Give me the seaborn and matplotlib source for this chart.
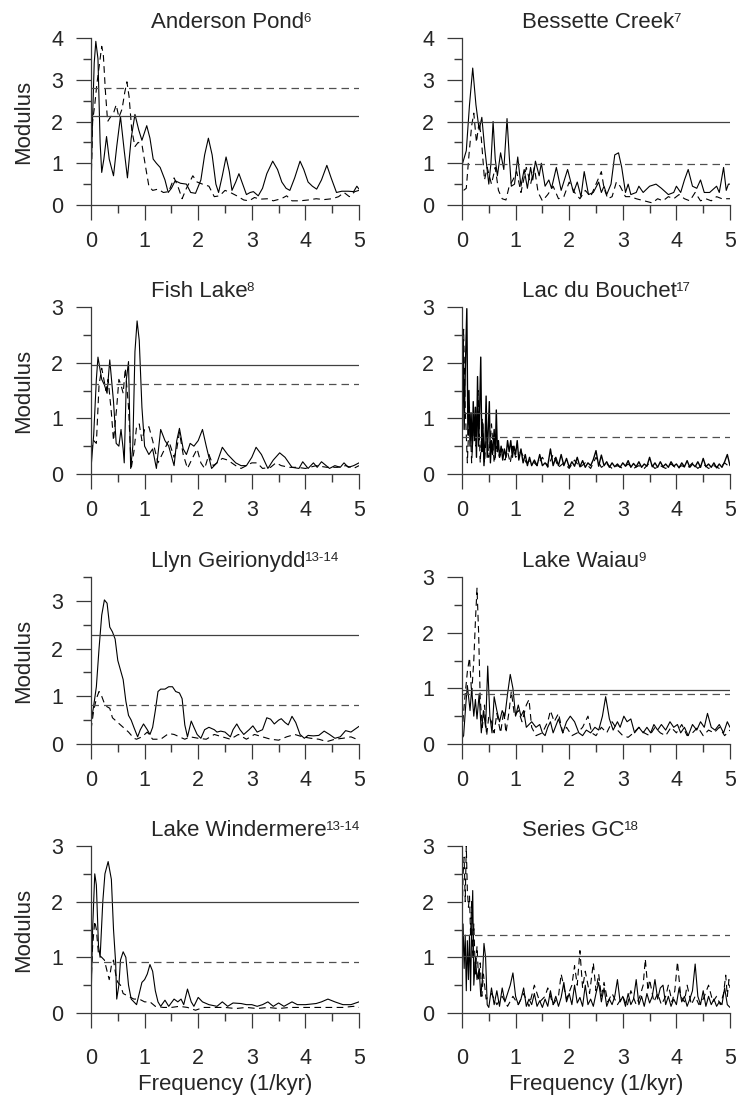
import matplotlib
matplotlib.use("Agg")
import matplotlib.pyplot as plt
from matplotlib.ticker import FixedLocator
import seaborn as sns
import pandas as pd

# Panel titles, reference superscripts and y-axis tops
titles = ["Anderson Pond", "Bessette Creek", "Fish Lake", "Lac du Bouchet",
          "Llyn Geirionydd", "Lake Waiau", "Lake Windermere", "Series GC"]
refs = ["6", "7", "8", "17", "13-14", "9", "13-14", "18"]
ymax = [4, 4, 3, 3, 3.5, 3, 3, 3]

# Significance levels (solid / dashed horizontal lines)
solid_thr = [2.12, 1.99, 1.95, 1.09, 2.28, 0.97, 2.00, 1.03]
dashed_thr = [2.81, 0.98, 1.61, 0.67, 0.82, 0.90, 0.92, 1.41]

# Spectra as (frequency 1/kyr, modulus) pairs
anderson_solid = [(0.00, 0.50), (0.03, 2.10), (0.06, 3.40), (0.09, 3.92), (0.13, 3.50), (0.17, 1.50),
                  (0.20, 0.78), (0.24, 1.10), (0.29, 1.64), (0.34, 1.10), (0.42, 0.70), (0.48, 1.40),
                  (0.55, 2.12), (0.62, 1.30), (0.68, 0.65), (0.75, 1.60), (0.82, 2.17), (0.89, 1.80),
                  (0.95, 1.55), (1.04, 1.90), (1.10, 1.60), (1.16, 1.10), (1.22, 1.00), (1.29, 0.90),
                  (1.38, 0.60), (1.44, 0.30), (1.50, 0.40), (1.57, 0.58), (1.67, 0.52), (1.78, 0.50),
                  (1.86, 0.30), (1.95, 0.28), (2.05, 0.60), (2.12, 1.20), (2.19, 1.60), (2.26, 1.20),
                  (2.33, 0.50), (2.38, 0.30), (2.45, 0.70), (2.52, 1.15), (2.58, 0.80), (2.63, 0.35),
                  (2.70, 0.55), (2.76, 0.75), (2.83, 0.50), (2.90, 0.25), (2.97, 0.30), (3.03, 0.32),
                  (3.12, 0.22), (3.20, 0.40), (3.28, 0.75), (3.39, 1.05), (3.48, 0.85), (3.56, 0.55),
                  (3.64, 0.40), (3.71, 0.35), (3.80, 0.65), (3.90, 1.05), (3.97, 0.85), (4.05, 0.55),
                  (4.13, 0.45), (4.21, 0.38), (4.30, 0.60), (4.40, 0.95), (4.48, 0.65), (4.58, 0.30),
                  (4.68, 0.33), (4.80, 0.33), (4.90, 0.32), (4.96, 0.45), (5.00, 0.38)]
anderson_dashed = [(0.00, 0.30), (0.03, 2.00), (0.07, 2.40), (0.11, 2.90), (0.15, 3.30), (0.20, 3.80),
                   (0.23, 3.60), (0.27, 2.70), (0.31, 2.00), (0.36, 2.10), (0.42, 2.20), (0.47, 2.40),
                   (0.52, 2.10), (0.58, 2.30), (0.63, 2.70), (0.67, 2.95), (0.71, 2.60), (0.76, 1.80),
                   (0.82, 1.40), (0.88, 1.50), (0.95, 1.45), (1.02, 0.90), (1.08, 0.45), (1.15, 0.35),
                   (1.25, 0.38), (1.35, 0.30), (1.45, 0.32), (1.55, 0.65), (1.62, 0.45), (1.70, 0.15),
                   (1.78, 0.40), (1.90, 0.70), (1.98, 0.55), (2.08, 0.50), (2.20, 0.45), (2.30, 0.20),
                   (2.40, 0.22), (2.50, 0.35), (2.60, 0.30), (2.72, 0.22), (2.85, 0.12), (2.95, 0.10),
                   (3.05, 0.18), (3.15, 0.14), (3.30, 0.15), (3.40, 0.10), (3.55, 0.15), (3.65, 0.22),
                   (3.75, 0.10), (3.90, 0.10), (4.05, 0.12), (4.20, 0.15), (4.35, 0.13), (4.50, 0.15),
                   (4.62, 0.20), (4.72, 0.30), (4.82, 0.20), (4.92, 0.32), (5.00, 0.35)]

bessette_solid = [(0.00, 0.95), (0.08, 1.30), (0.14, 2.40), (0.20, 3.28), (0.26, 2.40), (0.32, 1.80),
                  (0.37, 2.10), (0.42, 1.40), (0.46, 0.95), (0.50, 0.50), (0.54, 1.00), (0.58, 2.00),
                  (0.62, 1.10), (0.66, 0.70), (0.72, 1.25), (0.78, 0.85), (0.84, 2.07), (0.88, 1.20),
                  (0.92, 0.45), (0.98, 0.50), (1.04, 1.15), (1.10, 0.45), (1.16, 0.85), (1.22, 0.40),
                  (1.28, 0.90), (1.32, 0.60), (1.37, 1.05), (1.44, 0.70), (1.48, 1.00), (1.55, 0.45),
                  (1.62, 0.60), (1.67, 0.40), (1.76, 0.90), (1.85, 0.35), (1.97, 0.85), (2.08, 0.30),
                  (2.15, 0.55), (2.22, 0.20), (2.28, 0.80), (2.36, 0.25), (2.45, 0.30), (2.55, 0.55),
                  (2.60, 0.30), (2.65, 0.45), (2.70, 0.25), (2.78, 0.50), (2.85, 1.20), (2.92, 1.25),
                  (2.98, 0.90), (3.05, 0.30), (3.10, 0.50), (3.15, 0.25), (3.25, 0.30), (3.30, 0.45),
                  (3.38, 0.30), (3.50, 0.45), (3.62, 0.50), (3.72, 0.40), (3.85, 0.25), (3.95, 0.30),
                  (4.00, 0.45), (4.08, 0.30), (4.15, 0.60), (4.22, 0.85), (4.30, 0.45), (4.38, 0.40),
                  (4.45, 0.60), (4.52, 0.30), (4.62, 0.30), (4.75, 0.45), (4.80, 0.30), (4.88, 0.90),
                  (4.93, 0.35), (4.97, 0.50), (5.00, 0.50)]
bessette_dashed = [(0.03, 0.35), (0.08, 0.40), (0.13, 1.20), (0.18, 1.90), (0.22, 2.20), (0.27, 1.50),
                   (0.32, 2.00), (0.36, 1.60), (0.42, 0.60), (0.47, 0.90), (0.55, 0.50), (0.62, 0.90),
                   (0.68, 0.35), (0.75, 0.15), (0.82, 0.12), (0.88, 0.45), (0.95, 0.60), (1.02, 0.80),
                   (1.10, 0.30), (1.20, 0.90), (1.28, 0.50), (1.35, 0.90), (1.42, 0.30), (1.50, 0.10),
                   (1.60, 0.25), (1.70, 0.45), (1.80, 0.15), (1.90, 0.20), (2.00, 0.55), (2.10, 0.30),
                   (2.20, 0.15), (2.30, 0.35), (2.40, 0.20), (2.50, 0.50), (2.60, 0.80), (2.65, 0.40),
                   (2.72, 0.15), (2.80, 0.20), (2.88, 0.55), (2.95, 0.45), (3.05, 0.20), (3.15, 0.20),
                   (3.25, 0.15), (3.40, 0.10), (3.55, 0.05), (3.65, 0.15), (3.75, 0.10), (3.85, 0.20),
                   (3.95, 0.15), (4.05, 0.25), (4.15, 0.15), (4.25, 0.10), (4.35, 0.30), (4.45, 0.10),
                   (4.55, 0.15), (4.65, 0.10), (4.75, 0.20), (4.85, 0.15), (4.95, 0.15), (5.00, 0.15)]

fish_solid = [(0.00, 0.10), (0.05, 0.70), (0.10, 1.70), (0.13, 2.10), (0.20, 1.70), (0.25, 1.60),
              (0.30, 1.45), (0.35, 2.05), (0.42, 1.30), (0.47, 0.55), (0.52, 0.50), (0.56, 0.80),
              (0.60, 0.45), (0.62, 0.20), (0.66, 1.70), (0.70, 2.02), (0.74, 0.10), (0.78, 0.50),
              (0.82, 2.20), (0.86, 2.75), (0.90, 2.40), (0.95, 1.20), (1.00, 0.50), (1.08, 0.35),
              (1.15, 0.45), (1.22, 0.10), (1.30, 0.80), (1.38, 0.60), (1.45, 0.50), (1.55, 0.15),
              (1.60, 0.60), (1.65, 0.82), (1.72, 0.45), (1.78, 0.35), (1.85, 0.55), (1.92, 0.50),
              (2.00, 0.60), (2.08, 0.80), (2.15, 0.50), (2.25, 0.10), (2.35, 0.20), (2.45, 0.48),
              (2.55, 0.35), (2.70, 0.20), (2.80, 0.15), (2.90, 0.15), (3.00, 0.30), (3.08, 0.48),
              (3.18, 0.35), (3.30, 0.10), (3.40, 0.25), (3.52, 0.38), (3.62, 0.30), (3.75, 0.12),
              (3.88, 0.10), (3.95, 0.22), (4.05, 0.10), (4.15, 0.20), (4.22, 0.12), (4.30, 0.22),
              (4.45, 0.10), (4.55, 0.15), (4.65, 0.12), (4.72, 0.20), (4.80, 0.12), (4.90, 0.15),
              (5.00, 0.20)]
fish_dashed = [(0.00, 0.40), (0.05, 0.60), (0.10, 0.55), (0.15, 1.60), (0.20, 1.90), (0.24, 1.70),
               (0.28, 1.50), (0.32, 1.70), (0.38, 1.10), (0.42, 0.60), (0.48, 1.20), (0.52, 1.70),
               (0.56, 1.60), (0.60, 1.45), (0.64, 1.90), (0.70, 1.20), (0.75, 0.10), (0.80, 0.40),
               (0.85, 0.85), (0.90, 0.90), (0.95, 0.60), (1.00, 0.80), (1.08, 0.85), (1.15, 0.60),
               (1.25, 0.20), (1.35, 0.40), (1.45, 0.60), (1.55, 0.30), (1.60, 0.45), (1.65, 0.75),
               (1.72, 0.35), (1.80, 0.10), (1.90, 0.30), (1.98, 0.45), (2.05, 0.20), (2.12, 0.10),
               (2.20, 0.35), (2.28, 0.15), (2.35, 0.20), (2.45, 0.28), (2.55, 0.25), (2.70, 0.15),
               (2.80, 0.10), (2.90, 0.15), (3.00, 0.20), (3.10, 0.20), (3.20, 0.10), (3.35, 0.12),
               (3.45, 0.20), (3.55, 0.15), (3.70, 0.12), (3.85, 0.12), (4.00, 0.10), (4.20, 0.15),
               (4.40, 0.12), (4.60, 0.12), (4.75, 0.15), (4.90, 0.10), (5.00, 0.15)]

bouchet_solid = [(0.00, 0.60), (0.02, 2.40), (0.04, 0.80), (0.06, 1.80), (0.09, 2.97), (0.11, 0.70),
                 (0.13, 1.50), (0.15, 0.50), (0.17, 1.10), (0.19, 0.40), (0.21, 1.30), (0.23, 0.60),
                 (0.25, 1.20), (0.27, 0.30), (0.29, 1.75), (0.31, 0.50), (0.33, 1.20), (0.35, 2.10),
                 (0.37, 0.40), (0.39, 0.90), (0.41, 0.15), (0.43, 0.60), (0.45, 1.40), (0.47, 0.30),
                 (0.49, 0.80), (0.51, 1.30), (0.53, 0.20), (0.55, 0.60), (0.57, 0.35), (0.60, 0.80),
                 (0.62, 0.30), (0.64, 1.15), (0.66, 0.40), (0.68, 0.60), (0.70, 0.30), (0.73, 0.50),
                 (0.76, 0.25), (0.79, 0.45), (0.82, 0.30), (0.85, 0.60), (0.88, 0.40), (0.91, 0.60),
                 (0.94, 0.30), (0.97, 0.50), (1.00, 0.35), (1.03, 0.60), (1.06, 0.25), (1.10, 0.45),
                 (1.14, 0.20), (1.18, 0.35), (1.22, 0.15), (1.26, 0.30), (1.30, 0.15), (1.35, 0.25),
                 (1.40, 0.15), (1.45, 0.35), (1.50, 0.15), (1.55, 0.20), (1.60, 0.15), (1.65, 0.45),
                 (1.70, 0.15), (1.75, 0.30), (1.80, 0.15), (1.85, 0.35), (1.90, 0.15), (1.95, 0.28),
                 (2.00, 0.12), (2.05, 0.22), (2.10, 0.14), (2.15, 0.30), (2.20, 0.13), (2.25, 0.24),
                 (2.30, 0.12), (2.35, 0.20), (2.40, 0.15), (2.45, 0.26), (2.50, 0.42), (2.55, 0.14),
                 (2.60, 0.34), (2.65, 0.15), (2.70, 0.22), (2.75, 0.12), (2.80, 0.20), (2.85, 0.13),
                 (2.90, 0.18), (2.95, 0.12), (3.00, 0.20), (3.05, 0.14), (3.10, 0.24), (3.15, 0.12),
                 (3.20, 0.19), (3.25, 0.13), (3.30, 0.22), (3.35, 0.12), (3.40, 0.18), (3.45, 0.14),
                 (3.50, 0.30), (3.55, 0.13), (3.60, 0.20), (3.65, 0.12), (3.70, 0.22), (3.75, 0.13),
                 (3.80, 0.18), (3.85, 0.12), (3.90, 0.22), (3.95, 0.14), (4.00, 0.18), (4.05, 0.11),
                 (4.10, 0.20), (4.15, 0.13), (4.20, 0.24), (4.25, 0.12), (4.30, 0.18), (4.35, 0.13),
                 (4.40, 0.22), (4.45, 0.12), (4.50, 0.28), (4.55, 0.13), (4.60, 0.18), (4.65, 0.12),
                 (4.70, 0.20), (4.75, 0.11), (4.80, 0.18), (4.85, 0.12), (4.90, 0.22), (4.95, 0.35),
                 (5.00, 0.15)]
bouchet_dashed = [(0.00, 0.50), (0.03, 2.60), (0.06, 1.20), (0.10, 0.20), (0.14, 1.20), (0.18, 0.20),
                  (0.22, 1.00), (0.26, 0.50), (0.30, 1.50), (0.34, 0.20), (0.38, 1.00), (0.42, 0.20),
                  (0.46, 0.80), (0.50, 0.30), (0.55, 0.90), (0.60, 0.20), (0.65, 0.50), (0.70, 0.30),
                  (0.75, 0.45), (0.80, 0.25), (0.85, 0.40), (0.90, 0.20), (0.95, 0.50), (1.00, 0.30),
                  (1.10, 0.40), (1.20, 0.20), (1.30, 0.25), (1.40, 0.15), (1.50, 0.30), (1.60, 0.12),
                  (1.70, 0.35), (1.80, 0.12), (1.90, 0.20), (2.00, 0.10), (2.10, 0.25), (2.20, 0.12),
                  (2.30, 0.20), (2.40, 0.10), (2.50, 0.30), (2.60, 0.12), (2.70, 0.18), (2.80, 0.10),
                  (2.90, 0.15), (3.00, 0.10), (3.10, 0.18), (3.20, 0.10), (3.30, 0.15), (3.40, 0.10),
                  (3.50, 0.20), (3.60, 0.10), (3.70, 0.15), (3.80, 0.10), (3.90, 0.18), (4.00, 0.10),
                  (4.10, 0.15), (4.20, 0.10), (4.30, 0.20), (4.40, 0.10), (4.50, 0.18), (4.60, 0.10),
                  (4.70, 0.15), (4.80, 0.10), (4.90, 0.20), (5.00, 0.12)]

llyn_solid = [(0.00, 0.45), (0.05, 0.80), (0.10, 1.20), (0.15, 2.00), (0.20, 2.70), (0.25, 3.02),
              (0.30, 2.95), (0.35, 2.45), (0.40, 2.35), (0.45, 2.20), (0.50, 1.75), (0.55, 1.55),
              (0.60, 1.35), (0.65, 0.90), (0.70, 0.60), (0.75, 0.50), (0.80, 0.35), (0.87, 0.15),
              (0.92, 0.30), (0.98, 0.42), (1.05, 0.30), (1.10, 0.20), (1.15, 0.35), (1.20, 0.70),
              (1.25, 1.10), (1.30, 1.15), (1.38, 1.15), (1.45, 1.20), (1.52, 1.20), (1.58, 1.10),
              (1.65, 1.07), (1.70, 0.95), (1.75, 0.40), (1.80, 0.15), (1.87, 0.48), (1.92, 0.35),
              (1.98, 0.20), (2.05, 0.12), (2.12, 0.30), (2.20, 0.35), (2.30, 0.30), (2.35, 0.25),
              (2.42, 0.27), (2.50, 0.25), (2.60, 0.15), (2.65, 0.30), (2.72, 0.42), (2.78, 0.30),
              (2.85, 0.20), (2.95, 0.30), (3.02, 0.38), (3.10, 0.25), (3.20, 0.30), (3.28, 0.55),
              (3.35, 0.52), (3.42, 0.42), (3.50, 0.50), (3.55, 0.53), (3.62, 0.45), (3.68, 0.40),
              (3.75, 0.58), (3.82, 0.45), (3.90, 0.20), (3.98, 0.12), (4.05, 0.18), (4.15, 0.17),
              (4.25, 0.18), (4.35, 0.27), (4.45, 0.20), (4.55, 0.12), (4.65, 0.15), (4.75, 0.28),
              (4.85, 0.25), (4.95, 0.33), (5.00, 0.37)]
llyn_dashed = [(0.00, 0.30), (0.05, 0.70), (0.10, 0.95), (0.15, 1.10), (0.20, 1.00), (0.25, 0.85),
               (0.30, 0.78), (0.35, 0.75), (0.40, 0.55), (0.50, 0.45), (0.60, 0.35), (0.70, 0.25),
               (0.80, 0.12), (0.85, 0.10), (0.95, 0.15), (1.05, 0.25), (1.15, 0.10), (1.30, 0.10),
               (1.45, 0.22), (1.55, 0.20), (1.65, 0.15), (1.75, 0.10), (1.85, 0.15), (2.00, 0.12),
               (2.15, 0.10), (2.30, 0.20), (2.45, 0.15), (2.60, 0.10), (2.75, 0.20), (2.90, 0.10),
               (3.05, 0.20), (3.20, 0.15), (3.35, 0.10), (3.50, 0.08), (3.65, 0.15), (3.80, 0.20),
               (3.95, 0.15), (4.10, 0.12), (4.25, 0.10), (4.40, 0.05), (4.55, 0.10), (4.70, 0.12),
               (4.85, 0.15), (5.00, 0.08)]

waiau_solid = [(0.00, 0.10), (0.03, 0.15), (0.07, 0.70), (0.10, 1.05), (0.15, 0.60), (0.18, 1.00),
               (0.22, 0.50), (0.25, 0.80), (0.28, 0.45), (0.32, 0.90), (0.36, 0.20), (0.40, 0.60),
               (0.44, 0.30), (0.48, 1.40), (0.52, 0.50), (0.56, 0.20), (0.60, 0.85), (0.65, 0.60),
               (0.70, 0.40), (0.75, 0.60), (0.80, 0.50), (0.85, 0.90), (0.90, 1.25), (0.95, 1.00),
               (1.00, 0.50), (1.05, 0.70), (1.10, 0.50), (1.15, 0.60), (1.20, 0.30), (1.30, 0.40),
               (1.38, 0.30), (1.45, 0.35), (1.50, 0.20), (1.55, 0.15), (1.60, 0.30), (1.65, 0.40),
               (1.70, 0.20), (1.80, 0.45), (1.88, 0.20), (1.95, 0.40), (2.02, 0.50), (2.10, 0.40),
               (2.18, 0.20), (2.25, 0.15), (2.32, 0.25), (2.40, 0.20), (2.48, 0.30), (2.55, 0.25),
               (2.62, 0.50), (2.68, 0.85), (2.75, 0.45), (2.82, 0.25), (2.90, 0.40), (2.95, 0.30),
               (3.02, 0.50), (3.08, 0.40), (3.15, 0.45), (3.22, 0.20), (3.30, 0.30), (3.38, 0.20),
               (3.45, 0.30), (3.52, 0.20), (3.58, 0.35), (3.65, 0.25), (3.72, 0.35), (3.80, 0.25),
               (3.88, 0.40), (3.95, 0.30), (4.02, 0.35), (4.08, 0.20), (4.15, 0.30), (4.22, 0.15),
               (4.30, 0.35), (4.38, 0.25), (4.45, 0.40), (4.52, 0.30), (4.58, 0.55), (4.65, 0.30),
               (4.72, 0.25), (4.80, 0.35), (4.88, 0.20), (4.95, 0.40), (5.00, 0.30)]
waiau_dashed = [(0.00, 0.20), (0.05, 0.80), (0.10, 1.30), (0.14, 1.55), (0.18, 0.90), (0.22, 1.50),
                (0.25, 2.20), (0.28, 2.80), (0.31, 2.00), (0.34, 0.80), (0.38, 0.30), (0.42, 0.70),
                (0.46, 0.15), (0.50, 0.50), (0.55, 0.40), (0.60, 0.20), (0.65, 0.55), (0.72, 0.20),
                (0.78, 0.60), (0.82, 0.20), (0.88, 0.60), (0.92, 0.95), (0.98, 0.50), (1.05, 0.60),
                (1.12, 0.40), (1.20, 0.70), (1.25, 0.80), (1.30, 0.30), (1.38, 0.15), (1.50, 0.20),
                (1.60, 0.40), (1.65, 0.60), (1.72, 0.40), (1.80, 0.55), (1.88, 0.20), (1.95, 0.30),
                (2.05, 0.15), (2.15, 0.20), (2.25, 0.30), (2.35, 0.50), (2.42, 0.20), (2.50, 0.15),
                (2.60, 0.30), (2.70, 0.20), (2.80, 0.40), (2.90, 0.25), (3.00, 0.15), (3.10, 0.12),
                (3.20, 0.20), (3.30, 0.30), (3.40, 0.20), (3.50, 0.15), (3.60, 0.30), (3.70, 0.20),
                (3.80, 0.15), (3.90, 0.30), (4.00, 0.20), (4.10, 0.35), (4.20, 0.15), (4.30, 0.20),
                (4.40, 0.30), (4.50, 0.15), (4.60, 0.25), (4.70, 0.20), (4.80, 0.30), (4.90, 0.15),
                (5.00, 0.25)]

windermere_solid = [(0.00, 0.15), (0.03, 1.50), (0.07, 2.50), (0.10, 2.30), (0.14, 1.20), (0.17, 1.00),
                    (0.22, 2.00), (0.26, 2.50), (0.32, 2.72), (0.38, 2.40), (0.42, 1.50), (0.46, 0.90),
                    (0.48, 0.25), (0.52, 0.50), (0.55, 0.95), (0.60, 1.10), (0.65, 1.00), (0.70, 0.50),
                    (0.75, 0.25), (0.80, 0.20), (0.85, 0.15), (0.90, 0.35), (0.95, 0.55), (1.00, 0.60),
                    (1.05, 0.70), (1.10, 0.87), (1.15, 0.75), (1.20, 0.40), (1.25, 0.20), (1.30, 0.12),
                    (1.38, 0.23), (1.45, 0.12), (1.55, 0.25), (1.62, 0.20), (1.68, 0.25), (1.73, 0.15),
                    (1.80, 0.43), (1.87, 0.20), (1.92, 0.12), (2.00, 0.28), (2.08, 0.20), (2.20, 0.15),
                    (2.35, 0.12), (2.45, 0.20), (2.55, 0.12), (2.65, 0.18), (2.80, 0.17), (2.90, 0.15),
                    (3.00, 0.15), (3.10, 0.12), (3.20, 0.15), (3.30, 0.20), (3.40, 0.12), (3.50, 0.18),
                    (3.60, 0.12), (3.75, 0.20), (3.85, 0.15), (4.00, 0.15), (4.20, 0.17), (4.30, 0.20),
                    (4.42, 0.25), (4.55, 0.20), (4.70, 0.15), (4.85, 0.15), (5.00, 0.20)]
windermere_dashed = [(0.00, 0.50), (0.03, 1.20), (0.07, 1.65), (0.10, 1.50), (0.14, 1.05), (0.20, 1.00),
                     (0.25, 0.95), (0.30, 0.75), (0.34, 0.60), (0.38, 0.85), (0.42, 0.95), (0.46, 0.70),
                     (0.50, 0.55), (0.55, 0.50), (0.60, 0.35), (0.70, 0.30), (0.80, 0.25), (0.90, 0.25),
                     (1.00, 0.20), (1.10, 0.20), (1.20, 0.12), (1.35, 0.10), (1.50, 0.10), (1.65, 0.12),
                     (1.80, 0.10), (1.95, 0.05), (2.10, 0.10), (2.30, 0.10), (2.50, 0.10), (2.70, 0.08),
                     (2.90, 0.10), (3.10, 0.08), (3.30, 0.10), (3.50, 0.08), (3.70, 0.10), (3.90, 0.10),
                     (4.10, 0.10), (4.30, 0.10), (4.50, 0.10), (4.70, 0.10), (4.90, 0.12), (5.00, 0.10)]

gc_solid = [(0.00, 0.50), (0.02, 1.60), (0.04, 0.80), (0.06, 1.40), (0.08, 0.40), (0.10, 1.30),
            (0.12, 0.60), (0.14, 1.40), (0.16, 0.40), (0.18, 1.50), (0.20, 2.20), (0.22, 0.50),
            (0.25, 1.00), (0.28, 0.60), (0.32, 0.80), (0.35, 0.30), (0.38, 0.60), (0.41, 1.25),
            (0.44, 1.00), (0.47, 0.15), (0.50, 0.10), (0.55, 0.45), (0.60, 0.15), (0.65, 0.40),
            (0.70, 0.12), (0.75, 0.45), (0.80, 0.20), (0.85, 0.35), (0.90, 0.50), (0.95, 0.72),
            (1.00, 0.30), (1.05, 0.15), (1.10, 0.25), (1.15, 0.45), (1.20, 0.12), (1.25, 0.25),
            (1.30, 0.15), (1.35, 0.35), (1.40, 0.12), (1.45, 0.22), (1.50, 0.10), (1.55, 0.25),
            (1.60, 0.12), (1.65, 0.40), (1.70, 0.15), (1.75, 0.30), (1.80, 0.12), (1.85, 0.28),
            (1.90, 0.55), (1.95, 0.20), (2.00, 0.35), (2.05, 0.15), (2.10, 0.50), (2.15, 0.18),
            (2.20, 0.28), (2.25, 0.12), (2.30, 0.50), (2.35, 0.15), (2.40, 0.25), (2.45, 0.12),
            (2.50, 0.35), (2.55, 0.55), (2.60, 0.20), (2.65, 0.45), (2.70, 0.12), (2.75, 0.25),
            (2.80, 0.15), (2.85, 0.30), (2.90, 0.60), (2.95, 0.20), (3.00, 0.30), (3.05, 0.12),
            (3.10, 0.35), (3.15, 0.15), (3.20, 0.25), (3.25, 0.60), (3.30, 0.15), (3.35, 0.30),
            (3.40, 0.12), (3.45, 0.35), (3.50, 0.18), (3.55, 0.30), (3.60, 0.60), (3.65, 0.25),
            (3.70, 0.45), (3.75, 0.50), (3.80, 0.15), (3.85, 0.30), (3.90, 0.12), (3.95, 0.25),
            (4.00, 0.15), (4.05, 0.45), (4.10, 0.20), (4.15, 0.30), (4.20, 0.12), (4.25, 0.25),
            (4.30, 0.40), (4.35, 0.88), (4.40, 0.30), (4.45, 0.15), (4.50, 0.40), (4.55, 0.12),
            (4.60, 0.30), (4.65, 0.15), (4.70, 0.25), (4.75, 0.12), (4.80, 0.20), (4.85, 0.15),
            (4.90, 0.45), (4.95, 0.15), (5.00, 0.10)]
gc_dashed = [(0.00, 1.50), (0.02, 2.50), (0.04, 2.80), (0.06, 2.00), (0.08, 3.00), (0.10, 2.20),
             (0.12, 1.90), (0.14, 2.10), (0.16, 1.40), (0.18, 2.00), (0.20, 1.00), (0.22, 1.60),
             (0.25, 0.70), (0.28, 1.20), (0.31, 0.60), (0.34, 0.90), (0.37, 0.30), (0.40, 0.70),
             (0.45, 0.25), (0.55, 0.35), (0.65, 0.15), (0.75, 0.30), (0.85, 0.12), (0.95, 0.30),
             (1.05, 0.15), (1.15, 0.35), (1.25, 0.12), (1.35, 0.50), (1.45, 0.20), (1.55, 0.30),
             (1.60, 0.45), (1.70, 0.15), (1.80, 0.30), (1.85, 0.70), (1.95, 0.25), (2.05, 0.50),
             (2.10, 0.85), (2.15, 0.50), (2.20, 1.12), (2.25, 0.45), (2.30, 0.75), (2.38, 0.35),
             (2.45, 0.90), (2.50, 0.40), (2.55, 0.70), (2.60, 0.30), (2.65, 0.55), (2.72, 0.20),
             (2.80, 0.35), (2.90, 0.15), (3.00, 0.30), (3.08, 0.12), (3.15, 0.40), (3.25, 0.15),
             (3.32, 0.30), (3.38, 0.50), (3.42, 0.97), (3.47, 0.40), (3.50, 0.60), (3.58, 0.20),
             (3.65, 0.35), (3.72, 0.15), (3.80, 0.30), (3.85, 0.50), (3.92, 0.20), (3.97, 0.40),
             (4.02, 0.92), (4.08, 0.30), (4.15, 0.20), (4.20, 0.50), (4.28, 0.15), (4.35, 0.30),
             (4.42, 0.15), (4.50, 0.25), (4.60, 0.50), (4.68, 0.20), (4.75, 0.30), (4.82, 0.15),
             (4.88, 0.35), (4.92, 0.68), (4.95, 0.30), (4.98, 0.60), (5.00, 0.45)]

solid_curves = [anderson_solid, bessette_solid, fish_solid, bouchet_solid,
                llyn_solid, waiau_solid, windermere_solid, gc_solid]
dashed_curves = [anderson_dashed, bessette_dashed, fish_dashed, bouchet_dashed,
                 llyn_dashed, waiau_dashed, windermere_dashed, gc_dashed]

# tick positions
x_major = [0, 1, 2, 3, 4, 5]
x_minor = [0.5, 1.5, 2.5, 3.5, 4.5]
y_minor_all = [0.5, 1.5, 2.5, 3.5]

sns.set_theme(style="ticks")
plt.rcParams["font.family"] = ["Liberation Sans", "DejaVu Sans"]
AX_COL = "#3a3a3a"
DASH = (0, (6, 4))

W, H = 737, 1097
fig = plt.figure(figsize=(W / 100, H / 100), dpi=100)

col_left = [91, 462]
row_bottom = [205, 474, 744, 1013]
ax_w, ax_h = 268, 167

for i in range(8):
    r, c = divmod(i, 2)
    ax = fig.add_axes([col_left[c] / W, 1 - row_bottom[r] / H, ax_w / W, ax_h / H])

    df_s = pd.DataFrame(solid_curves[i], columns=["freq", "mod"])
    df_d = pd.DataFrame(dashed_curves[i], columns=["freq", "mod"])
    sns.lineplot(data=df_d, x="freq", y="mod", ax=ax, color="black", linewidth=0.8,
                 linestyle=DASH, estimator=None, sort=False)
    sns.lineplot(data=df_s, x="freq", y="mod", ax=ax, color="black",
                 linewidth=1.0 if i == 3 else 0.8, estimator=None, sort=False)
    ax.axhline(solid_thr[i], color="#404040", linewidth=0.9)
    ax.axhline(dashed_thr[i], color="#505050", linewidth=0.9, linestyle=DASH)

    ax.set_xlim(0, 5)
    ax.set_ylim(0, ymax[i])
    ax.set_xticks(x_major)
    ax.set_yticks(range(0, int(ymax[i]) + 1))
    ax.xaxis.set_minor_locator(FixedLocator(x_minor))
    ax.yaxis.set_minor_locator(FixedLocator([v for v in y_minor_all if v <= ymax[i]]))
    ax.tick_params(axis="both", which="major", direction="out", length=11, width=0.9,
                   color=AX_COL, labelsize=15.5)
    ax.tick_params(axis="x", which="major", pad=14 if r == 3 else 8)
    ax.tick_params(axis="y", which="major", pad=9)
    ax.tick_params(axis="both", which="minor", direction="out", length=6, width=1.0,
                   color=AX_COL, bottom=True, left=True)
    for side in ["top", "right"]:
        ax.spines[side].set_visible(False)
    for side in ["left", "bottom"]:
        ax.spines[side].set_color(AX_COL)
        ax.spines[side].set_linewidth(0.9)

    if c == 0:
        ax.set_ylabel("Modulus", fontsize=16, labelpad=12)
    else:
        ax.set_ylabel("")
    if r == 3:
        ax.set_xlabel("Frequency (1/kyr)", fontsize=16, labelpad=4)
    else:
        ax.set_xlabel("")

    t = ax.annotate(titles[i], xy=(0.225, 1), xycoords="axes fraction", xytext=(0, 7),
                    textcoords="offset points", ha="left", va="baseline", fontsize=16)
    ax.annotate(refs[i], xy=(1, 0), xycoords=t, xytext=(-0.8, 8.2),
                textcoords="offset points", ha="left", va="baseline", fontsize=9.5)

fig.savefig("out.png", dpi=100)
